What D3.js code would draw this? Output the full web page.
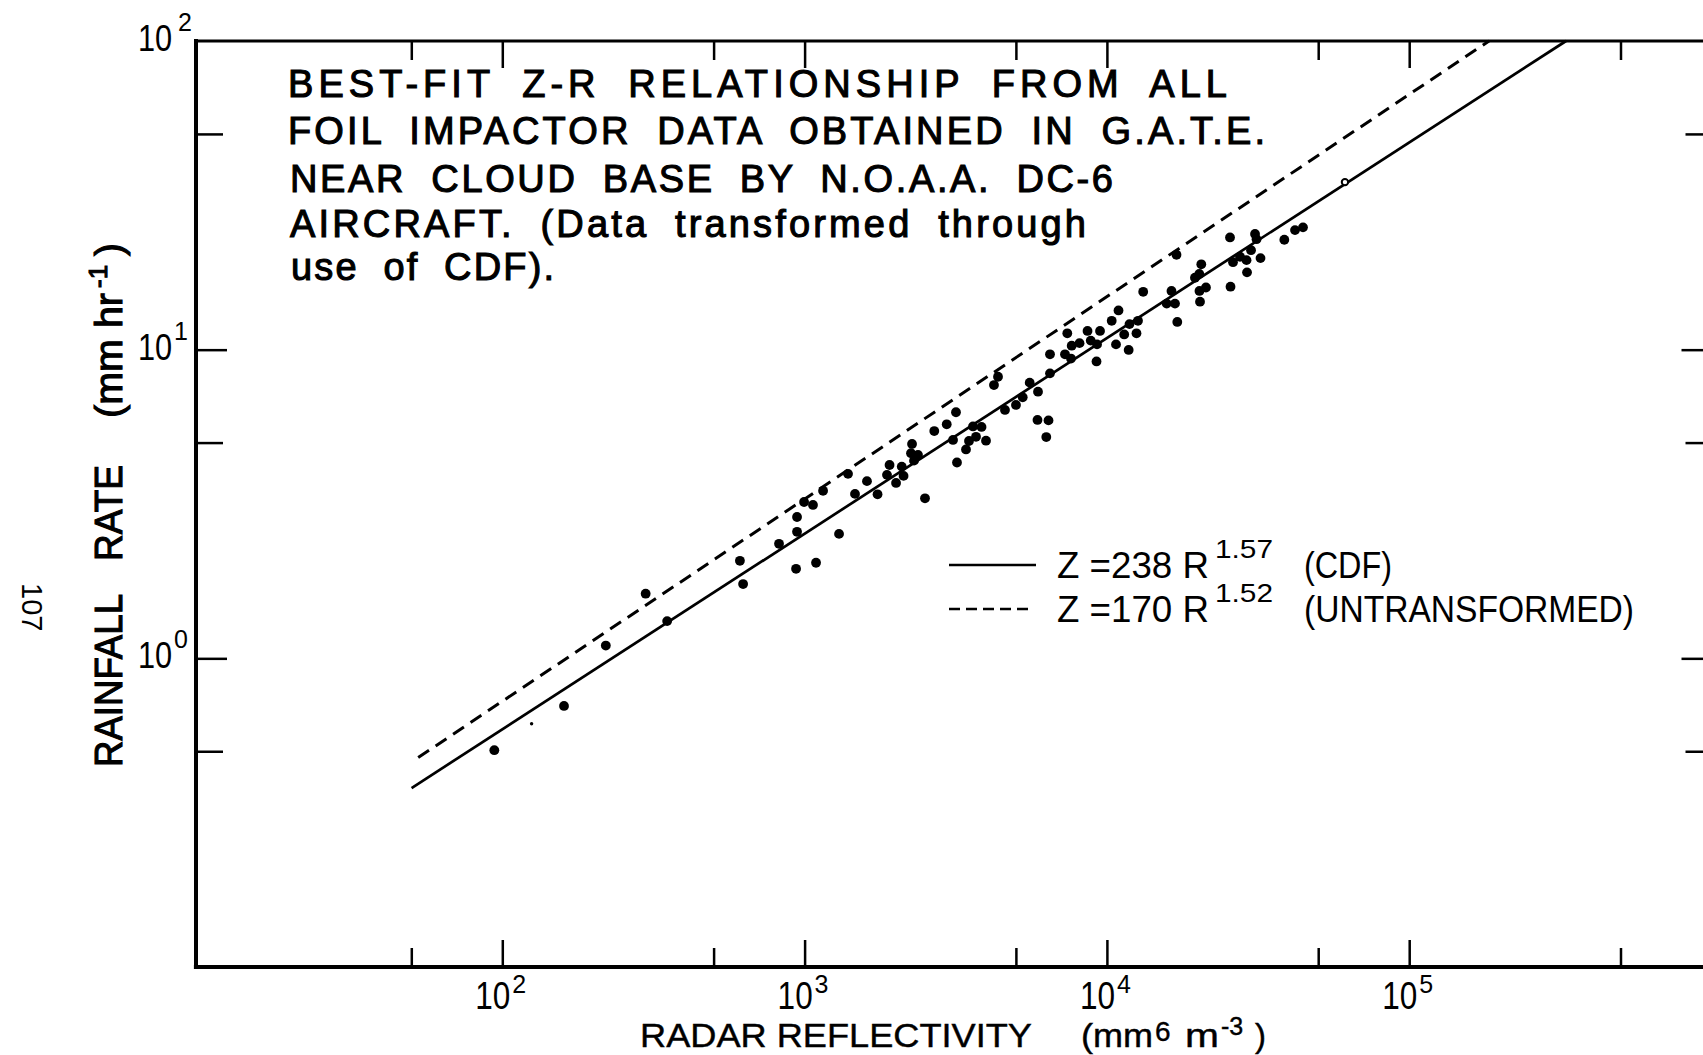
<!DOCTYPE html>
<html>
<head>
<meta charset="utf-8">
<script src="https://cdn.jsdelivr.net/npm/d3@7"></script>
<style>
  html, body { margin: 0; padding: 0; background: #fff; overflow: hidden; }
  svg { display: block; }
  text { font-family: "Liberation Sans", Arial, Helvetica, sans-serif; fill: #000; }
  .heavy { stroke: #000; stroke-width: 1.1px; }
</style>
</head>
<body>
<svg id="chart" width="1703" height="1055"></svg>
<script>
// ---------------- DATA ----------------
// Radar reflectivity Z (mm^6 m^-3) of each foil-impactor sample
const zValues = [
  94.1, 160, 220, 298, 351, 611, 626, 823, 944, 944,
  937, 1091, 996, 1066, 1151, 1300, 1392, 1468, 1608, 1743,
  1910, 2096, 1873, 2007, 2125, 2502, 2267, 2249, 2372, 2301,
  2685, 2952, 3168, 3097, 3192, 3419, 3498, 3606, 3848, 3690,
  3982, 4231, 4363, 4601, 5003, 5266, 5554, 5917, 5894, 6409,
  6302, 6483, 6483, 7267, 7648, 7607, 8118, 7396, 8841, 8627,
  9489, 9240, 9276, 10717, 10373, 10924, 11407, 11878, 11804, 12527,
  12672, 13184, 15768, 16355, 16798, 17095, 16990, 19557, 20212, 20522,
  21267, 20240, 20324, 25541, 25641, 26130, 27562, 29974, 30900, 31256,
  28962, 29075, 32219, 38628, 41906, 44537
];
// Rainfall rate R (mm hr^-1) of each sample
const rValues = [
  0.504, 0.701, 1.10, 1.62, 1.32, 2.07, 1.74, 2.35, 2.87, 2.57,
  1.95, 2.04, 3.21, 3.14, 3.49, 2.53, 3.96, 3.41, 3.75, 3.40,
  4.23, 4.18, 3.93, 3.70, 3.90, 3.30, 4.95, 4.62, 4.56, 4.37,
  5.45, 5.73, 6.27, 5.10, 4.31, 4.75, 5.06, 5.64, 5.62, 5.22,
  5.07, 7.68, 8.17, 6.38, 6.62, 7.01, 7.82, 7.31, 5.92, 5.90,
  5.21, 8.38, 9.66, 9.66, 10.3, 9.36, 10.5, 11.3, 10.7, 11.5,
  11.5, 9.16, 10.4, 10.4, 12.4, 13.4, 11.2, 12.1, 9.98, 11.3,
  12.4, 15.4, 14.1, 15.5, 14.1, 12.3, 20.3, 17.1, 17.6, 18.9,
  15.9, 15.5, 14.3, 23.1, 16.0, 19.2, 20.0, 21.0, 23.7, 22.8,
  19.5, 17.8, 19.8, 22.7, 24.4, 24.9
];
// faint / open marks
const openZ = [61300];
const openR = [34.9];
const faintZ = [125];
const faintR = [0.614];

// Fitted relationships (end points)
const cdfFitZ = [50.1, 330200];   // Z = 238 R^1.57
const cdfFitR = [0.380, 100];
const rawFitZ = [52.7, 183700];   // Z = 170 R^1.52
const rawFitR = [0.477, 100];

// Axes
const xDomain = [9.7, 1e6];
const yDomain = [0.1, 100];
const xMajorTicks = [100, 1000, 10000, 100000];
const xMinorTicks = [50, 500, 5000, 50000, 500000];
const xTickExponents = ["2", "3", "4", "5"];
const yMajorTicks = [1, 10];
const yMinorTicks = [0.5, 5, 50];
const yLabelTicks = [1, 10, 100];
const yTickExponents = ["0", "1", "2"];

// Text
const noteLines = [
  "BEST-FIT Z-R RELATIONSHIP FROM ALL",
  "FOIL IMPACTOR DATA OBTAINED IN G.A.T.E.",
  "NEAR CLOUD BASE BY N.O.A.A. DC-6",
  "AIRCRAFT. (Data transformed through",
  "use of CDF)."
];
const legendEquations = ["Z =238 R", "Z =170 R"];
const legendExponents = ["1.57", "1.52"];
const legendNotes = ["(CDF)", "(UNTRANSFORMED)"];
const pageNumber = "107";

// ---------------- DRAWING ----------------
const svg = d3.select("#chart");
svg.append("rect").attr("width", 1703).attr("height", 1055).attr("fill", "#fff");

const x = d3.scaleLog().domain(xDomain).range([196, 1711.5]);
const y = d3.scaleLog().domain(yDomain).range([967, 41]);
const [xL, xR] = x.range();
const [yB, yT] = y.range();

function tickAxis(axisFn, scale, values, size, transform) {
  const g = svg.append("g").attr("transform", transform)
    .call(axisFn(scale).tickValues(values).tickSize(size).tickSizeOuter(0).tickFormat(() => ""));
  g.select(".domain").remove();
  g.selectAll(".tick text").remove();
  g.selectAll(".tick line").attr("stroke", "#000").attr("stroke-width", 2.5);
  return g;
}
tickAxis(d3.axisBottom, x, xMajorTicks, -27, `translate(0,${yB})`);
tickAxis(d3.axisBottom, x, xMinorTicks, -19, `translate(0,${yB})`);
tickAxis(d3.axisTop, x, xMajorTicks, -27, `translate(0,${yT})`);
tickAxis(d3.axisTop, x, xMinorTicks, -19, `translate(0,${yT})`);
tickAxis(d3.axisLeft, y, yMajorTicks, -31, `translate(${xL},0)`);
tickAxis(d3.axisLeft, y, yMinorTicks, -27, `translate(${xL},0)`);
tickAxis(d3.axisRight, y, yMajorTicks, -30, `translate(${xR},0)`);
tickAxis(d3.axisRight, y, yMinorTicks, -26, `translate(${xR},0)`);

// frame
const frame = svg.append("g").attr("stroke", "#000").attr("stroke-linecap", "square");
frame.append("line").attr("x1", xL).attr("x2", xL).attr("y1", yT).attr("y2", yB).attr("stroke-width", 4);
frame.append("line").attr("x1", xL).attr("x2", xR).attr("y1", yB).attr("y2", yB).attr("stroke-width", 4.2);
frame.append("line").attr("x1", xL).attr("x2", xR).attr("y1", yT).attr("y2", yT).attr("stroke-width", 3.2);
frame.append("line").attr("x1", xR).attr("x2", xR).attr("y1", yT).attr("y2", yB).attr("stroke-width", 3);

// fit lines
const line = d3.line().x(d => x(d[0])).y(d => y(d[1]));
svg.append("path").datum(d3.zip(cdfFitZ, cdfFitR)).attr("d", line)
  .attr("fill", "none").attr("stroke", "#000").attr("stroke-width", 2.7);
svg.append("path").datum(d3.zip(rawFitZ, rawFitR)).attr("d", line)
  .attr("fill", "none").attr("stroke", "#000").attr("stroke-width", 3)
  .attr("stroke-dasharray", "13,8");

// data points
svg.append("g").selectAll("circle").data(d3.zip(zValues, rValues)).join("circle")
  .attr("cx", d => x(d[0])).attr("cy", d => y(d[1])).attr("r", 4.9).attr("fill", "#000");
svg.append("g").selectAll("circle").data(d3.zip(openZ, openR)).join("circle")
  .attr("cx", d => x(d[0])).attr("cy", d => y(d[1])).attr("r", 3.2)
  .attr("fill", "#fff").attr("stroke", "#000").attr("stroke-width", 2);
svg.append("g").selectAll("circle").data(d3.zip(faintZ, faintR)).join("circle")
  .attr("cx", d => x(d[0])).attr("cy", d => y(d[1])).attr("r", 1.7).attr("fill", "#000");

// x tick labels: "10" (condensed) with superscript exponent
const xl = svg.append("g");
xMajorTicks.forEach((v, i) => {
  const px = x(v);
  xl.append("text").attr("transform", `translate(${px - 27},1009) scale(0.83,1)`)
    .attr("font-size", 38).text("10");
  xl.append("text").attr("x", px + 10).attr("y", 993).attr("font-size", 25).text(xTickExponents[i]);
});

// y tick labels
const yl = svg.append("g");
yLabelTicks.forEach((v, i) => {
  const py = y(v);
  yl.append("text").attr("transform", `translate(138,${py + 10}) scale(0.83,1)`)
    .attr("font-size", 37).text("10");
  yl.append("text").attr("x", i === 2 ? 178 : 174).attr("y", py - 10).attr("font-size", 25).text(yTickExponents[i]);
});

// x axis title
const xt = svg.append("text").attr("y", 1047).attr("font-size", 33).attr("stroke", "#000").attr("stroke-width", 0.4);
xt.append("tspan").attr("x", 640).attr("textLength", 392).attr("lengthAdjust", "spacingAndGlyphs").text("RADAR  REFLECTIVITY");
xt.append("tspan").attr("x", 1081).attr("textLength", 72).attr("lengthAdjust", "spacingAndGlyphs").text("(mm");
xt.append("tspan").attr("x", 1155).attr("y", 1041).attr("font-size", 28).text("6");
xt.append("tspan").attr("x", 1185).attr("y", 1047).attr("textLength", 34).attr("lengthAdjust", "spacingAndGlyphs").text("m");
xt.append("tspan").attr("x", 1221).attr("y", 1035).attr("font-size", 25).text("-3");
xt.append("tspan").attr("x", 1255).attr("y", 1047).text(")");

// y axis title (rotated)
const yt = svg.append("text").attr("class", "heavy")
  .attr("transform", "translate(122,0) rotate(-90)").attr("y", 0).attr("font-size", 39);
yt.append("tspan").attr("x", -767).attr("textLength", 173).attr("lengthAdjust", "spacingAndGlyphs").text("RAINFALL");
yt.append("tspan").attr("x", -561).attr("textLength", 96).attr("lengthAdjust", "spacingAndGlyphs").text("RATE");
yt.append("tspan").attr("x", -418).attr("textLength", 125).attr("lengthAdjust", "spacingAndGlyphs").text("(mm hr");
yt.append("tspan").attr("x", -288).attr("y", -15).attr("font-size", 26).text("-1");
yt.append("tspan").attr("x", -256).attr("y", 0).text(")");

// annotation
const noteBaselines = [97, 144, 192, 237, 280];
const noteStarts = [288, 288, 290, 290, 291];
const noteLengths = [939, 977, 823, 796, 263];
const nt = svg.append("g").attr("class", "heavy");
noteLines.forEach((s, i) => {
  nt.append("text").attr("x", noteStarts[i]).attr("y", noteBaselines[i]).attr("font-size", 38)
    .attr("word-spacing", 12)
    .attr("textLength", noteLengths[i]).attr("lengthAdjust", "spacing").text(s);
});

// legend
const lg = svg.append("g");
const legY = [565, 609];
const legBase = [578, 622];
lg.append("line").attr("x1", 949).attr("x2", 1036).attr("y1", legY[0]).attr("y2", legY[0])
  .attr("stroke", "#000").attr("stroke-width", 2.7);
lg.append("line").attr("x1", 949).attr("x2", 1031).attr("y1", legY[1]).attr("y2", legY[1])
  .attr("stroke", "#000").attr("stroke-width", 2.6).attr("stroke-dasharray", "11,6");
const noteLen = [88, 330];
legendEquations.forEach((s, i) => {
  const t = lg.append("text").attr("y", legBase[i]).attr("font-size", 37);
  t.append("tspan").attr("x", 1057).attr("textLength", 152).attr("lengthAdjust", "spacingAndGlyphs").text(s);
  t.append("tspan").attr("x", 1215).attr("y", legBase[i] - 20).attr("font-size", 26)
    .attr("textLength", 58).attr("lengthAdjust", "spacingAndGlyphs").text(legendExponents[i]);
  t.append("tspan").attr("x", 1304).attr("y", legBase[i])
    .attr("textLength", noteLen[i]).attr("lengthAdjust", "spacingAndGlyphs").text(legendNotes[i]);
});

// page number (rotated)
svg.append("text").attr("transform", "translate(22,583) rotate(90)")
  .attr("font-family", "Liberation Serif, serif").attr("font-size", 29).text(pageNumber);
</script>
</body>
</html>
